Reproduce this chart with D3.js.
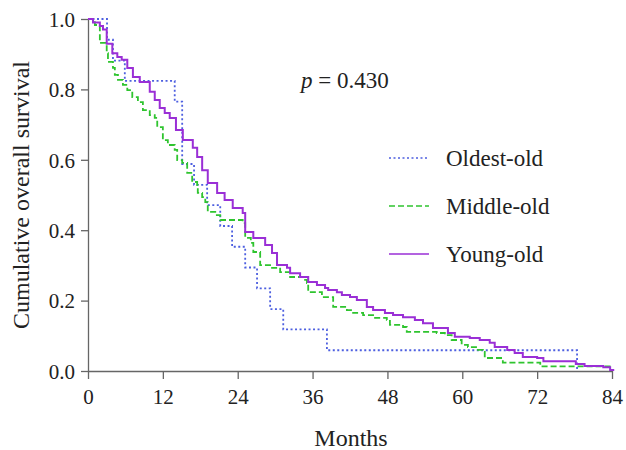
<!DOCTYPE html>
<html>
<head>
<meta charset="utf-8">
<script src="https://cdn.jsdelivr.net/npm/d3@7"></script>
<style>
  body { margin: 0; background: #fff; }
  svg text { font-family: "Liberation Serif", "Times New Roman", serif !important; }
</style>
</head>
<body>
<script>
// survival step data: [month of drop, survival after drop]
var oldestOld = [[0,1],[3.05,0.941],[4.0,0.882],[5.9,0.824],[13.9,0.765],[15.1,0.588],[17.0,0.529],[19.1,0.471],
  [21.2,0.412],[23.1,0.353],[25.2,0.294],[27.1,0.235],[29.2,0.176],[31.3,0.118],[38.3,0.059],[78.4,0],[78.4,0]];
var middleOld = [[0,1],[1.1,0.983],[1.9,0.932],[3.0,0.903],[3.2,0.878],[4.0,0.861],[4.3,0.841],[4.8,0.827],[5.6,0.813],
  [6.3,0.798],[7.1,0.778],[8.0,0.764],[8.8,0.741],[9.9,0.727],[10.7,0.719],[11.1,0.693],[12.0,0.656],[12.8,0.642],
  [13.9,0.628],[14.3,0.599],[15.1,0.591],[15.9,0.563],[16.7,0.537],[17.5,0.528],[17.6,0.506],[18.3,0.494],[18.8,0.480],
  [19.2,0.452],[20.4,0.443],[21.2,0.429],[24.8,0.420],[25.2,0.378],[26.1,0.364],[26.5,0.338],[27.6,0.301],[29.5,0.293],
  [30.8,0.281],[32.4,0.267],[34.5,0.259],[35.1,0.250],[35.3,0.224],[37.5,0.210],[39.3,0.182],[41.5,0.173],[42.5,0.165],
  [44.1,0.159],[45.7,0.151],[47.9,0.145],[48.4,0.131],[50.5,0.125],[51.1,0.111],[55.9,0.108],[57.2,0.102],[58.3,0.088],
  [59.9,0.074],[60.9,0.068],[62.5,0.060],[63.3,0.054],[63.6,0.037],[66.5,0.024],[72.5,0.013],[84,0.013]];
var youngOld = [[0,1],[0.8,0.99],[1.9,0.98],[2.4,0.97],[3.0,0.93],[3.9,0.903],[4.7,0.892],[5.4,0.884],[6.3,0.861],
  [7.2,0.835],[8.3,0.821],[9.9,0.793],[10.7,0.770],[11.5,0.747],[12.3,0.733],[13.1,0.719],[14.1,0.685],[15.2,0.656],
  [16.8,0.634],[17.5,0.608],[18.3,0.570],[19.2,0.534],[20.7,0.506],[21.9,0.486],[23.2,0.463],[24.8,0.449],[25.2,0.395],
  [26.5,0.378],[28.4,0.358],[29.5,0.335],[30.3,0.301],[31.9,0.293],[32.4,0.278],[34.0,0.267],[35.3,0.253],[36.7,0.244],
  [38.0,0.236],[38.5,0.230],[39.9,0.224],[40.7,0.216],[42.0,0.210],[43.1,0.202],[44.7,0.182],[45.7,0.173],[47.6,0.165],
  [48.9,0.159],[50.5,0.153],[52.4,0.145],[53.7,0.136],[55.3,0.122],[57.7,0.108],[58.8,0.097],[61.2,0.094],[62.8,0.088],
  [64.4,0.080],[65.2,0.068],[67.2,0.060],[68.4,0.051],[69.7,0.040],[72.0,0.037],[73.0,0.028],[78.2,0.020],[79.6,0.014],
  [82.6,0.011],[83.7,0.003],[84.2,0]];
var xTicks = [0, 12, 24, 36, 48, 60, 72, 84];
var yTicks = [0, 0.2, 0.4, 0.6, 0.8, 1.0];
var groupNames = ["Oldest-old", "Middle-old", "Young-old"];
var groupColors = ["#4d5fe0", "#2fc42f", "#9a2fd6"];
var groupDash = ["2,2.5", "6,3", null];
var pText = "0.430";

var svgWidth = 626;
var svgHeight = 450;
var serif = "'Liberation Serif', 'Times New Roman', serif";

var svg = d3.select("body").append("svg")
    .attr("width", svgWidth)
    .attr("height", svgHeight);

var xScale = d3.scaleLinear().domain([0, 84]).range([88, 612]);
var yScale = d3.scaleLinear().domain([0, 1]).range([371, 19]);

var x_axis = d3.axisBottom(xScale).tickValues(xTicks).tickSize(8).tickSizeOuter(0).tickPadding(10)
    .tickFormat(d3.format("d"));
var y_axis = d3.axisLeft(yScale).tickValues(yTicks).tickSize(7).tickSizeOuter(0).tickPadding(6)
    .tickFormat(d3.format(".1f"));

var gx = svg.append("g")
    .attr("transform", "translate(0," + yScale(0) + ")")
    .call(x_axis);
var gy = svg.append("g")
    .attr("transform", "translate(" + xScale(0) + ",0)")
    .call(y_axis);
[gx, gy].forEach(function(g) {
    g.attr("font-family", serif).attr("font-size", 21);
    g.select(".domain").attr("stroke", "#666").attr("stroke-width", 1.3);
    g.selectAll(".tick line").attr("stroke", "#666").attr("stroke-width", 1.3);
    g.selectAll(".tick text").attr("fill", "#222")
        .style("font-family", serif).style("font-size", "21px");
});
gy.selectAll(".tick text").attr("dy", "0.35em");

// curves
var line = d3.line()
    .x(function(d) { return xScale(d[0]); })
    .y(function(d) { return yScale(d[1]); })
    .curve(d3.curveStepAfter);

[oldestOld, middleOld, youngOld].forEach(function(data, i) {
    svg.append("path")
        .datum(data)
        .attr("fill", "none")
        .attr("stroke", groupColors[i])
        .attr("stroke-width", i == 2 ? 2 : 1.8)
        .attr("stroke-dasharray", groupDash[i])
        .attr("d", line);
});

// axis titles
svg.append("text")
    .attr("x", 351)
    .attr("y", 446)
    .attr("text-anchor", "middle")
    .style("font-size", "24px")
    .attr("fill", "#222")
    .text("Months");
svg.append("text")
    .attr("transform", "translate(29,195) rotate(-90)")
    .attr("text-anchor", "middle")
    .style("font-size", "24px")
    .attr("fill", "#222")
    .text("Cumulative overall survival");

// p value
var pt = svg.append("text")
    .attr("x", 301)
    .attr("y", 88)
    .style("font-size", "23px")
    .attr("fill", "#222");
pt.append("tspan").attr("font-style", "italic").text("p");
pt.append("tspan").text(" = " + pText);

// legend
groupNames.forEach(function(name, i) {
    var ly = 158 + i * 48;
    svg.append("line")
        .attr("x1", 389).attr("x2", 429)
        .attr("y1", ly).attr("y2", ly)
        .attr("stroke", groupColors[i])
        .attr("stroke-width", 1.6)
        .attr("stroke-dasharray", groupDash[i]);
    svg.append("text")
        .attr("x", 446)
        .attr("y", ly + 8)
        .style("font-size", "23px")
        .attr("fill", "#222")
        .text(name);
});
</script>
</body>
</html>
